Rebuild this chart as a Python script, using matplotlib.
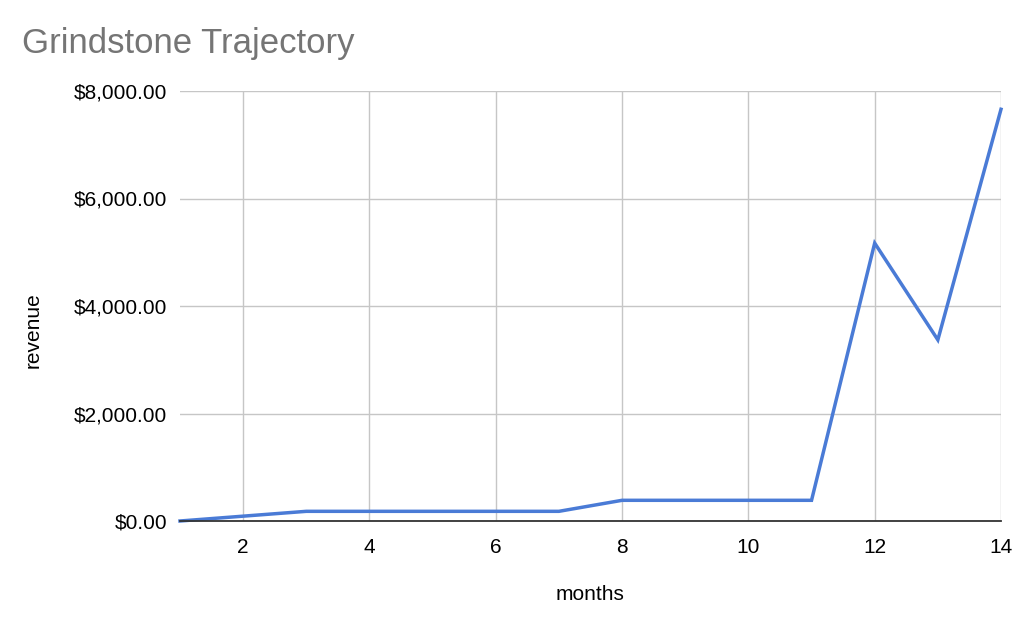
import matplotlib
matplotlib.use('Agg')
import matplotlib.pyplot as plt
from matplotlib.ticker import FuncFormatter

# Monthly revenue
months = [1, 2, 3, 4, 5, 6, 7, 8, 9, 10, 11, 12, 13, 14]
revenue = [0, 90, 180, 180, 180, 180, 180, 385, 385, 385, 385, 5170, 3370, 7660]
x_ticks = [2, 4, 6, 8, 10, 12, 14]
y_ticks = [0, 2000, 4000, 6000, 8000]

plt.rcParams['font.family'] = ['Liberation Sans', 'DejaVu Sans']

fig = plt.figure(figsize=(10.24, 6.22), dpi=100)
ax = fig.add_axes([180 / 1024, 1 - 521 / 622, (1001 - 180) / 1024, (521 - 91) / 622])

ax.plot(months, revenue, color='#4a7bd6', linewidth=2.5, solid_joinstyle='miter', clip_on=False, zorder=3)

ax.set_xlim(1, 14)
ax.set_ylim(0, 8000)
ax.set_xticks(x_ticks)
ax.set_yticks(y_ticks)
ax.yaxis.set_major_formatter(FuncFormatter(lambda v, p: f'${v:,.2f}'))

ax.grid(True, color='#c6c6c6', linewidth=1.0)
ax.set_axisbelow(True)
for side in ['left', 'top', 'right']:
    ax.spines[side].set_visible(False)
ax.spines['bottom'].set_color('#333333')
ax.spines['bottom'].set_linewidth(1.3)
ax.spines['bottom'].set_zorder(4)
ax.tick_params(axis='both', length=0, labelsize=15, colors='black')
ax.tick_params(axis='x', pad=12)
ax.tick_params(axis='y', pad=9)

ax.set_xlabel('months', fontsize=15, color='black')
ax.set_ylabel('revenue', fontsize=15, color='black')
ax.xaxis.label.set(va='center', ha='center')
ax.yaxis.label.set(va='center', ha='center')
ax.xaxis.set_label_coords(0.4994, -0.172)
ax.yaxis.set_label_coords(-0.1795, 0.444)

fig.text(22 / 1024, 1 - 44 / 622, 'Grindstone Trajectory', fontsize=25, color='#757575', va='center', ha='left')

fig.savefig('out.png', dpi=100)
